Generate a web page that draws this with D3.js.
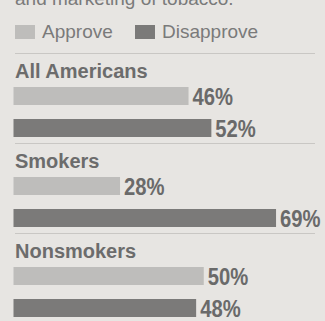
<!DOCTYPE html>
<html><head><meta charset="utf-8">
<script src="https://cdn.jsdelivr.net/npm/d3@7"></script>
<style>
html,body{margin:0;padding:0;background:#e7e5e2;}
svg{display:block;}
</style></head>
<body><svg id="c" width="325" height="321"></svg>
<script>
const groups = ["All Americans", "Smokers", "Nonsmokers"];
const seriesNames = ["Approve", "Disapprove"];
const approve = [46, 28, 50];
const disapprove = [52, 69, 48];
const colors = ["#bebdbb", "#7b7a79"];

const svg = d3.select("#c");
const W = 325, H = 321;
svg.append("rect").attr("width", W).attr("height", H).attr("fill", "#e7e5e2");

const x = d3.scaleLinear().domain([0, 100]).range([13.5, 394]);
const gy = d3.scaleBand().domain(groups).range([53, 53 + 90 * 3]).paddingInner(0).paddingOuter(0);
const by = d3.scaleBand().domain(seriesNames).range([34, 34 + 32 * 2]);
const barH = 18;

// Cut-off subtitle at top
svg.append("text").attr("x", 15).attr("y", 5)
  .attr("font-family", "Liberation Sans, Arial, sans-serif").attr("font-size", 19)
  .attr("fill", "#7a7a7a").text("and marketing of tobacco.");

// Legend
const legX = [15, 135];
const leg = svg.append("g").selectAll("g").data(seriesNames).join("g")
  .attr("transform", (d, i) => `translate(${legX[i]},25)`);
leg.append("rect").attr("width", 20).attr("height", 14).attr("fill", (d, i) => colors[i]);
leg.append("text").attr("x", 27).attr("y", 13)
  .attr("font-family", "Liberation Sans, Arial, sans-serif").attr("font-size", 19)
  .attr("fill", "#7a7a7a").text(d => d);

const data = groups.map((g, i) => ({ group: g, values: [approve[i], disapprove[i]] }));

const gg = svg.append("g").selectAll("g").data(data).join("g")
  .attr("transform", d => `translate(0,${gy(d.group)})`);

gg.append("line").attr("x1", 15).attr("x2", 315).attr("y1", 0.5).attr("y2", 0.5)
  .attr("stroke", "#c9c7c4").attr("stroke-width", 1);

gg.append("text").attr("x", 15).attr("y", 25)
  .attr("font-family", "Liberation Sans, Arial, sans-serif").attr("font-weight", "bold")
  .attr("font-size", 20).attr("fill", "#6c6c6c").text(d => d.group);

const bars = gg.selectAll("g.b").data(d => d.values.map((v, i) => ({ s: seriesNames[i], v, i })))
  .join("g").attr("class", "b");

bars.append("rect")
  .attr("x", x(0)).attr("y", d => by(d.s))
  .attr("width", d => x(d.v) - x(0)).attr("height", barH)
  .attr("fill", d => colors[d.i]);

bars.append("text")
  .attr("transform", d => `translate(${x(d.v) + 4},${by(d.s) + barH}) scale(0.88,1)`)
  .attr("font-family", "Liberation Sans, Arial, sans-serif")
  .attr("font-weight", "bold").attr("font-size", 23)
  .attr("fill", "#6a6a6a").text(d => d.v + "%");
</script></body></html>
